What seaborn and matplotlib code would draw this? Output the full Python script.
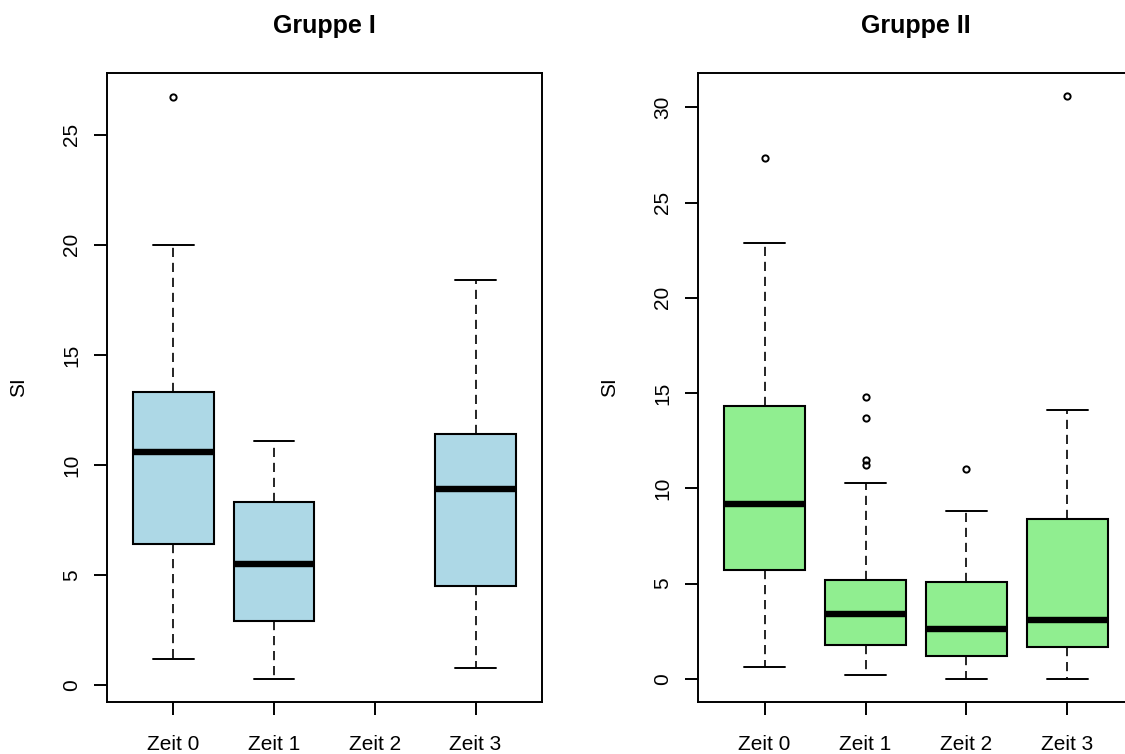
import matplotlib
matplotlib.use('Agg')
import matplotlib.pyplot as plt
import seaborn as sns
import pandas as pd

# boxplot summaries (R style boxplots, SI per time point)
zeiten = ['Zeit 0', 'Zeit 1', 'Zeit 2', 'Zeit 3']

# Gruppe I -> no values for Zeit 2
g1_zeit = ['Zeit 0', 'Zeit 1', 'Zeit 3']
g1_lo = [1.2, 0.3, 0.8]
g1_q1 = [6.4, 2.9, 4.5]
g1_med = [10.6, 5.5, 8.9]
g1_q3 = [13.3, 8.3, 11.4]
g1_hi = [20.0, 11.1, 18.4]
g1_out = [[26.7], [], []]

# Gruppe II
g2_zeit = ['Zeit 0', 'Zeit 1', 'Zeit 2', 'Zeit 3']
g2_lo = [0.6, 0.2, 0.0, 0.0]
g2_q1 = [5.7, 1.75, 1.2, 1.65]
g2_med = [9.2, 3.4, 2.6, 3.1]
g2_q3 = [14.3, 5.2, 5.1, 8.4]
g2_hi = [22.9, 10.3, 8.8, 14.1]
g2_out = [[27.35], [11.2, 11.5, 13.7, 14.8], [11.0], [30.6]]


def summary_to_long(zeit, lo, q1, med, q3, hi, out):
    # expand each five number summary into a sample whose
    # linear percentiles give back exactly q1 / median / q3
    rows = []
    for i in range(len(zeit)):
        k = len(out[i]) + 1
        vals = [lo[i]] * k + [q1[i]] * k + [med[i]] * k + [q3[i]] \
            + [hi[i]] * (k - len(out[i])) + list(out[i])
        rows += [(zeit[i], v) for v in vals]
    return pd.DataFrame(rows, columns=['zeit', 'SI'])


df_g1 = summary_to_long(g1_zeit, g1_lo, g1_q1, g1_med, g1_q3, g1_hi, g1_out)
df_g2 = summary_to_long(g2_zeit, g2_lo, g2_q1, g2_med, g2_q3, g2_hi, g2_out)

sns.set_style('white')
plt.rcParams['font.family'] = ['Liberation Sans', 'DejaVu Sans']
plt.rcParams['text.color'] = 'black'
plt.rcParams['axes.labelcolor'] = 'black'
plt.rcParams['xtick.color'] = 'black'
plt.rcParams['ytick.color'] = 'black'

fig = plt.figure(figsize=(11.25, 7.54), dpi=100)
ax1 = fig.add_axes([107 / 1125, 52 / 754, 435 / 1125, 629 / 754])
ax2 = fig.add_axes([698 / 1125, 52 / 754, 436 / 1125, 629 / 754])

panels = [
    (ax1, df_g1, '#ADD8E6', 'Gruppe I', (-0.76, 27.8), [0, 5, 10, 15, 20, 25]),
    (ax2, df_g2, '#90EE90', 'Gruppe II', (-1.22, 31.8), [0, 5, 10, 15, 20, 25, 30]),
]

for ax, df, col, title, ylim, yticks in panels:
    sns.boxplot(data=df, x='zeit', y='SI', order=zeiten, ax=ax,
                color=col, saturation=1, width=0.8, whis=1.5,
                linecolor='black', linewidth=1.5,
                boxprops=dict(edgecolor='black', linewidth=1.5),
                medianprops=dict(color='black', linewidth=4.6, solid_capstyle='butt'),
                whiskerprops=dict(color='black', linewidth=1.2, linestyle=(0, (5.5, 3.5))),
                capprops=dict(color='black', linewidth=1.4),
                flierprops=dict(marker='o', markerfacecolor='none',
                                markeredgecolor='black', markersize=4.5,
                                markeredgewidth=1.4))
    ax.set_xlim(-0.66, 3.66)
    ax.set_ylim(*ylim)
    ax.set_yticks(yticks)
    ax.set_xticks(range(4))
    ax.set_xticklabels(zeiten)
    ax.set_xlabel('')
    ax.set_ylabel('SI', fontsize=15, color='black')
    ax.yaxis.label.set_va('center')
    ax.yaxis.set_label_coords(-0.204, 0.5)
    ax.set_title(title, fontsize=18, fontweight='bold', pad=29, color='black')
    for s in ax.spines.values():
        s.set_visible(True)
        s.set_color('black')
        s.set_linewidth(1.4)
    ax.tick_params(axis='both', direction='out', length=9.5, width=1.4,
                   colors='black', labelsize=15, bottom=True, left=True)
    ax.tick_params(axis='x', pad=14)
    ax.tick_params(axis='y', pad=9, labelrotation=90)
    for lab in ax.get_yticklabels():
        lab.set_va('center')
    ax.grid(False)

fig.savefig('out.png', dpi=100)
